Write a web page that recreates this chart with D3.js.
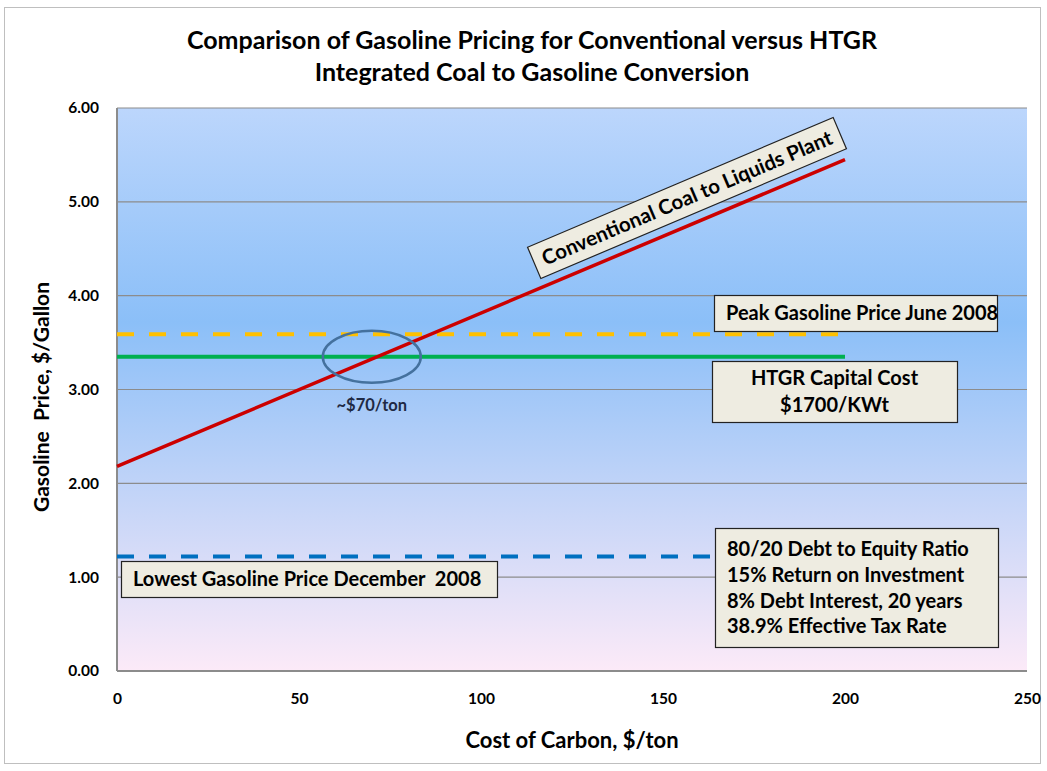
<!DOCTYPE html>
<html>
<head>
<meta charset="utf-8">
<script src="https://cdn.jsdelivr.net/npm/d3@7"></script>
<style>
body { margin: 0; background: #fff; }
text { font-family: Lato, "Open Sans", sans-serif; font-weight: bold; fill: #000; white-space: pre; }
</style>
</head>
<body>
<script>
var WIDTH = 1047, HEIGHT = 771;
var MARGIN = {left: 117, top: 108, right: 20, bottom: 100};
var INNER_WIDTH = 910, INNER_HEIGHT = 563;

// data
var xTicks = [0, 50, 100, 150, 200, 250];
var yTicks = [0, 1, 2, 3, 4, 5, 6];
var conventional = [{x: 0, y: 2.18}, {x: 200, y: 5.45}];
var peakPrice = [{x: 0, y: 3.59}, {x: 200, y: 3.59}];
var htgrPrice = [{x: 0, y: 3.35}, {x: 200, y: 3.35}];
var lowestPrice = [{x: 0, y: 1.22}, {x: 200, y: 1.22}];
var crossing = {x: 70, y: 3.35};

var _svg = d3.select('body').append('svg')
    .attr('width', WIDTH)
    .attr('height', HEIGHT);

var _xScale = d3.scaleLinear().domain([0, 250]).range([0, INNER_WIDTH]);
var _yScale = d3.scaleLinear().domain([0, 6]).range([INNER_HEIGHT, 0]);

// outer chart frame
_svg.append('rect')
    .attr('x', 4.5).attr('y', 7.5).attr('width', 1036).attr('height', 756)
    .attr('fill', '#fff').attr('stroke', '#bfbfbf');

var defs = _svg.append('defs');
var grad = defs.append('linearGradient').attr('id', 'bg')
    .attr('x1', 0).attr('y1', 0).attr('x2', 0).attr('y2', 1);
grad.append('stop').attr('offset', '0%').attr('stop-color', '#bcd6fc');
grad.append('stop').attr('offset', '38%').attr('stop-color', '#8bbff8');
grad.append('stop').attr('offset', '100%').attr('stop-color', '#fceaf8');

// title
_svg.append('text').attr('x', 532).attr('y', 49).attr('text-anchor', 'middle')
    .style('font-size', '25px').text('Comparison of Gasoline Pricing for Conventional versus HTGR');
_svg.append('text').attr('x', 532).attr('y', 81).attr('text-anchor', 'middle')
    .style('font-size', '25px').text('Integrated Coal to Gasoline Conversion');

var g = _svg.append('g')
    .attr('transform', 'translate(' + MARGIN.left + ', ' + MARGIN.top + ')');

g.append('rect').attr('width', INNER_WIDTH).attr('height', INNER_HEIGHT)
    .attr('fill', 'url(#bg)');

g.selectAll('.grid').data(yTicks.slice(1)).enter().append('line')
    .attr('x1', 0).attr('x2', INNER_WIDTH)
    .attr('y1', function(d) { return _yScale(d); })
    .attr('y2', function(d) { return _yScale(d); })
    .attr('stroke', '#8c8c8c').attr('stroke-width', 1.2);

// axes frame lines
g.append('line').attr('x1', 0).attr('x2', 0).attr('y1', 0).attr('y2', INNER_HEIGHT)
    .attr('stroke', '#8c8c8c').attr('stroke-width', 2);
g.append('line').attr('x1', 0).attr('x2', INNER_WIDTH).attr('y1', INNER_HEIGHT).attr('y2', INNER_HEIGHT)
    .attr('stroke', '#8c8c8c').attr('stroke-width', 2);

// tick labels
var yAxis = d3.axisLeft(_yScale).tickValues(yTicks).tickFormat(d3.format('.2f')).tickSize(0).tickPadding(18);
var ya = g.append('g').call(yAxis);
ya.select('.domain').remove();
ya.selectAll('text').style('font-size', '15.5px').attr('font-family', null);

var xAxis = d3.axisBottom(_xScale).tickValues(xTicks).tickSize(0).tickPadding(22);
var xa = g.append('g').attr('transform', 'translate(0,' + INNER_HEIGHT + ')').call(xAxis);
xa.select('.domain').remove();
xa.selectAll('text').style('font-size', '15.5px').attr('font-family', null);

// axis titles
_svg.append('text').attr('transform', 'translate(49,397) rotate(-90)').attr('text-anchor', 'middle')
    .style('font-size', '21px').text('Gasoline  Price, $/Gallon');
_svg.append('text').attr('x', 572).attr('y', 748).attr('text-anchor', 'middle')
    .style('font-size', '22px').text('Cost of Carbon, $/ton');

var line = d3.line()
    .x(function(d) { return _xScale(d.x); })
    .y(function(d) { return _yScale(d.y); });

g.append('path').attr('d', line(lowestPrice)).attr('fill', 'none')
    .attr('stroke', '#0070c0').attr('stroke-width', 4).attr('stroke-dasharray', '17,15');
g.append('path').attr('d', line(peakPrice)).attr('fill', 'none')
    .attr('stroke', '#ffc000').attr('stroke-width', 4).attr('stroke-dasharray', '17,15');
g.append('path').attr('d', line(htgrPrice)).attr('fill', 'none')
    .attr('stroke', '#00b050').attr('stroke-width', 4);
g.append('path').attr('d', line(conventional)).attr('fill', 'none')
    .attr('stroke', '#cc0000').attr('stroke-width', 3.5);

// crossing circle
g.append('ellipse')
    .attr('cx', _xScale(crossing.x)).attr('cy', _yScale(crossing.y))
    .attr('rx', 49).attr('ry', 26)
    .attr('fill', 'none').attr('stroke', '#44719e').attr('stroke-width', 2.5);
g.append('text').attr('x', _xScale(crossing.x)).attr('y', _yScale(crossing.y) + 54)
    .attr('text-anchor', 'middle').style('font-size', '16.5px').style('fill', '#1f2a44')
    .text('~$70/ton');

// annotation boxes
function box(x, y, w, h, lines, size, anchor, lh) {
    _svg.append('rect').attr('x', x + 0.5).attr('y', y + 0.5).attr('width', w).attr('height', h)
        .attr('fill', '#eeece1').attr('stroke', '#222').attr('stroke-width', 1.2);
    lines.forEach(function(t, i) {
        _svg.append('text')
            .attr('x', anchor === 'middle' ? x + w / 2 : x + 12)
            .attr('y', y + h / 2 + (i - (lines.length - 1) / 2) * lh + size * 0.36)
            .attr('text-anchor', anchor).style('font-size', size + 'px').text(t);
    });
}

box(714, 295, 283, 36, ['Peak Gasoline Price June 2008'], 20, 'start', 0);
box(712, 361, 245, 61, ['HTGR Capital Cost', '$1700/KWt'], 20, 'middle', 27);
box(121, 561, 376, 36, ['Lowest Gasoline Price December  2008'], 20, 'start', 0);
box(715, 528, 283, 119, ['80/20 Debt to Equity Ratio', '15% Return on Investment',
    '8% Debt Interest, 20 years', '38.9% Effective Tax Rate'], 20, 'start', 25.7);

// rotated label for the red line
var rg = _svg.append('g').attr('transform', 'translate(687,198) rotate(-23)');
rg.append('rect').attr('x', -166).attr('y', -17).attr('width', 332).attr('height', 34)
    .attr('fill', '#eeece1').attr('stroke', '#222').attr('stroke-width', 1.2);
rg.append('text').attr('x', 0).attr('y', 7).attr('text-anchor', 'middle')
    .style('font-size', '20.5px').text('Conventional Coal to Liquids Plant');
</script>
</body>
</html>
